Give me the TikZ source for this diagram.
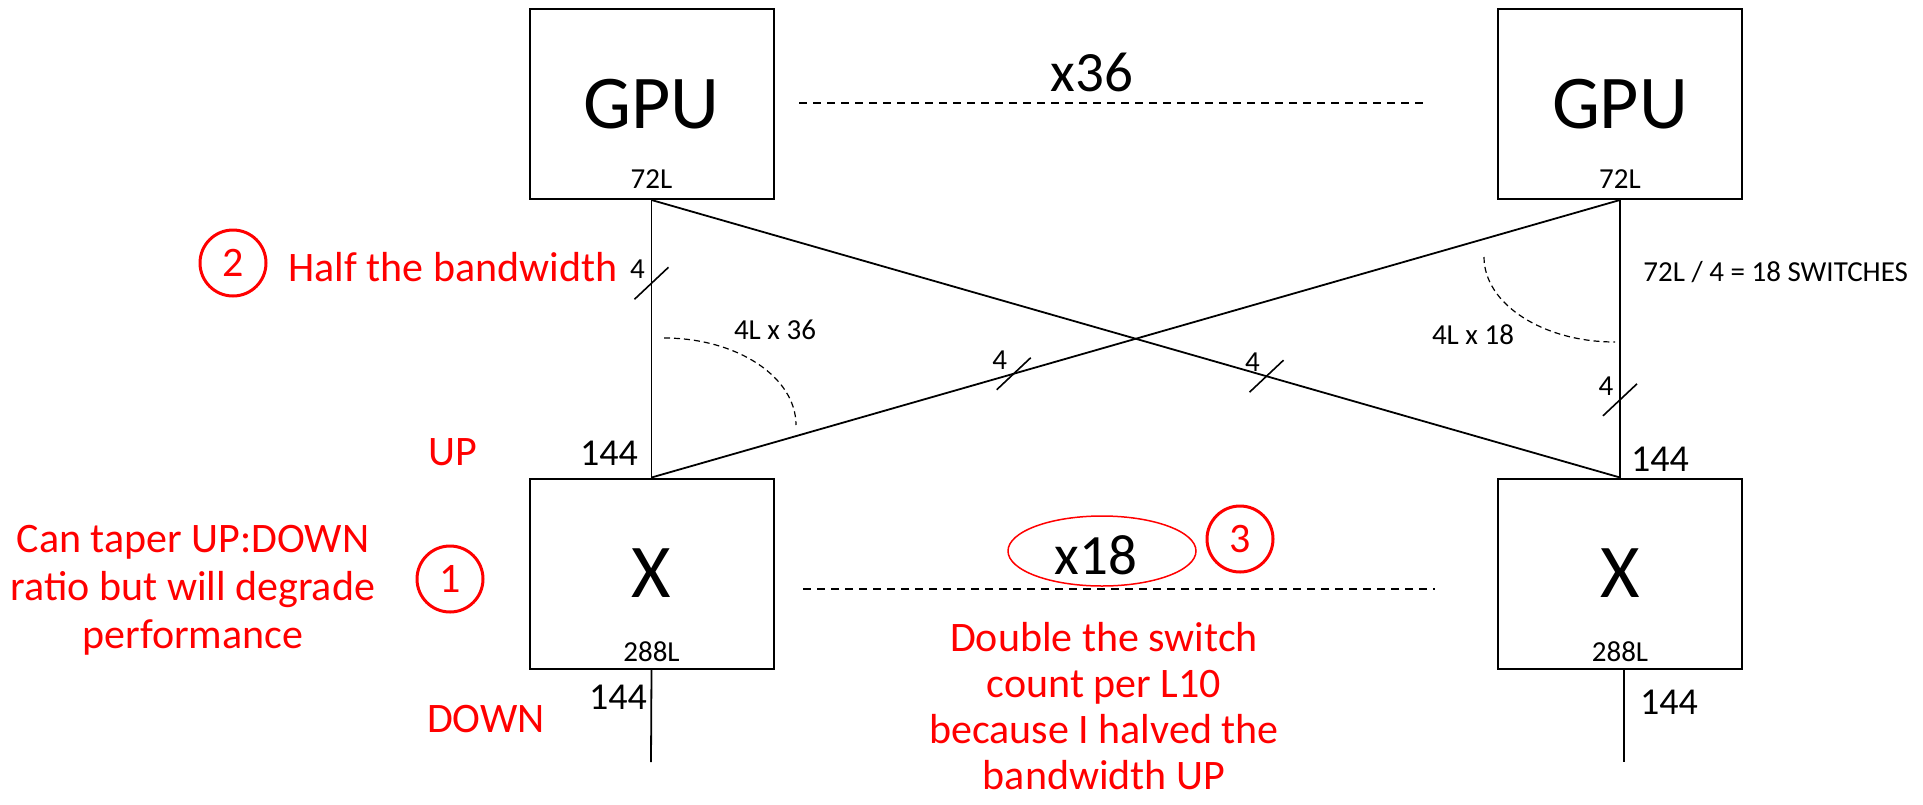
\documentclass[tikz,border=0pt]{standalone}
\usepackage{fontspec}
\setmainfont{Carlito}
\begin{document}
\begin{tikzpicture}[x=0.5pt,y=-0.5pt,
  box/.style={draw, line width=1pt, minimum width=122pt, minimum height=95pt, inner sep=0pt, font=\fontsize{38}{40}\selectfont},
  conn/.style={line width=0.9pt},
  dashline/.style={line width=1pt, dash pattern=on 4pt off 3pt},
  arcline/.style={line width=0.6pt, dash pattern=on 3pt off 2pt},
  mid/.style={inner sep=0pt, font=\fontsize{28.5}{30}\selectfont},
  small/.style={inner sep=0pt, font=\fontsize{14.5}{16}\selectfont},
  num/.style={inner sep=0pt, font=\fontsize{19}{21}\selectfont},
  note/.style={inner sep=0pt, text=red, font=\fontsize{21}{24}\selectfont, align=center},
  circnum/.style={circle, draw=red, line width=1.5pt, text=red, minimum size=33pt, inner sep=0pt, font=\fontsize{21}{22}\selectfont},
  slashline/.style={line width=0.8pt}
]
\useasboundingbox (0,0) rectangle (1923,804);

% boxes
\node[box] (gpuL) at (651.5,104) {GPU};
\node[box] (gpuR) at (1620,104) {GPU};
\node[box] (xL) at (651.5,573.5) {X};
\node[box] (xR) at (1620,573.5) {X};
\node[small] (lgL) at (651.5,179) {72L};
\node[small] (lgR) at (1620,179) {72L};
\node[small] (lxL) at (651.5,652) {288L};
\node[small] (lxR) at (1620,652) {288L};

% connectors
\draw[conn] (gpuL.south) -- coordinate[pos=0.3] (sA) (xL.north);
\draw[conn] (gpuR.south) -- coordinate[pos=0.72] (sD) (xR.north);
\draw[conn] (gpuR.south) -- coordinate[pos=0.626] (sB) (xL.north);
\draw[conn] (gpuL.south) -- coordinate[pos=0.635] (sC) (xR.north);
\coordinate (bL) at (651,762);
\coordinate (bR) at (1624,762);
\draw[conn] (xL.south) -- (bL);
\draw[conn] ([xshift=2pt]xR.south) -- (bR);

% slashes with labels
\foreach \s in {sA,sB,sC,sD}{
  \draw[slashline] ([shift={(-17,16)}]\s) -- ([shift={(17,-16)}]\s);
  \node[small] at ([shift={(-14,-14)}]\s) {4};
}

% dashed repetition lines
\coordinate (dT1) at (799,103);
\coordinate (dT2) at (1428,103);
\draw[dashline] (dT1) -- (dT2);
\coordinate (dM1) at (803,589);
\coordinate (dM2) at (1435,589);
\draw[dashline] (dM1) -- (dM2);
\node[mid] (x36) at (1092,72) {x36};
\node[mid] (x18) at (1096,555) {x18};
\draw[red, line width=0.75pt] (1102,551) ellipse [x radius=47pt, y radius=17.5pt];

% angle arcs
\draw[arcline] (664,338) .. controls (737,338) and (796,377) .. (796,425);
\draw[arcline] (1484,257) .. controls (1484,304) and (1543,342) .. (1615,342);
\node[small] (a36) at (775,330) {4L x 36};
\node[small] (a18) at (1473,335) {4L x 18};
\node[small, anchor=west] (sw) at (1643,272) {72L / 4 = 18 SWITCHES};

% port counts
\node[num] (pUL) at (609,453) {144};
\node[num] (pDL) at (618,697) {144};
\node[num] (pUR) at (1660,459) {144};
\node[num] (pDR) at (1669,702) {144};
\node[note] (up) at (453,452) {UP};
\node[note] (down) at (486,719) {DOWN};

% annotations
\node[circnum] (c2) at (233,263) {2};
\node[note, anchor=west] (half) at (288,267) {Half the bandwidth};
\node[circnum] (c1) at (450,579) {1};
\node[note] (taper) at (193,590) {Can taper UP:DOWN\\ratio but will degrade\\performance};
\node[circnum] (c3) at (1240,539) {3};
\node[note, font=\fontsize{21}{23}\selectfont] (dbl) at (1104,706) {Double the switch\\count per L10\\because I halved the\\bandwidth UP};
\end{tikzpicture}
\end{document}
